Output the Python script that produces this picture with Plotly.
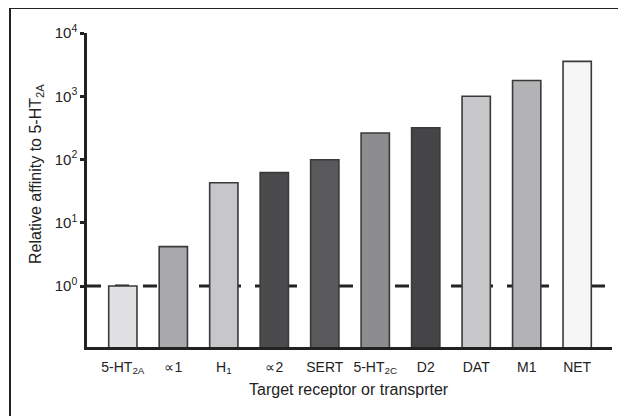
import plotly.graph_objects as go

categories = ["5-HT<sub>2A</sub>", "∝1", "H<sub>1</sub>", "∝2", "SERT",
              "5-HT<sub>2C</sub>", "D2", "DAT", "M1", "NET"]
values = [1.0, 4.2, 43, 62, 99, 263, 318, 1000, 1770, 3560]
bar_colors = ["#e1e1e3", "#a9a9ab", "#c7c7c9", "#4b4b4d", "#59595b",
              "#8d8d8f", "#454547", "#c8c8ca", "#b3b3b5", "#f6f6f6"]
ytick_vals = [1, 10, 100, 1000, 10000]
ytick_text = ["10<sup>0</sup>", "10<sup>1</sup>", "10<sup>2</sup>", "10<sup>3</sup>", "10<sup>4</sup>"]
x_title = "Target receptor or transprter"
y_title = "Relative affinity to 5-HT<sub>2A</sub>"

FONT = "Liberation Sans, Arial, sans-serif"
INK = "#222222"

OFF = 8  # page body margin
W, H = 618, 408
L, T = 87 - OFF, 33 - OFF
R = W - (612 - OFF)
B = H - (347 - OFF)
pw, ph = W - L - R, H - T - B

def px(x):
    return (x - OFF - L) / pw

def py(y):
    return (H - B - (y - OFF)) / ph

fig = go.Figure()
fig.add_trace(go.Bar(
    x=list(range(len(categories))), y=values, width=0.56,
    marker=dict(color=bar_colors, line=dict(color="#3a3a3a", width=1.6)),
))

fig.update_layout(
    width=W, height=H,
    margin=dict(l=L, r=R, t=T, b=B, autoexpand=False),
    paper_bgcolor="white", plot_bgcolor="white",
    showlegend=False,
    font=dict(family=FONT, color=INK, size=14),
)
fig.update_xaxes(
    range=[-0.71, 9.69],
    tickmode="array", tickvals=list(range(len(categories))), ticktext=categories,
    ticks="outside", ticklen=5, tickcolor="rgba(0,0,0,0)",
    showgrid=False, zeroline=False,
    showline=True, linecolor=INK, linewidth=2.5,
    tickfont=dict(family=FONT, size=14, color=INK),
)
fig.update_yaxes(
    type="log", range=[-0.964, 4],
    tickmode="array", tickvals=ytick_vals, ticktext=ytick_text,
    ticks="outside", ticklen=4, tickwidth=2.5, tickcolor=INK,
    showgrid=False, zeroline=False,
    showline=True, linecolor=INK, linewidth=2.5,
    tickfont=dict(family=FONT, size=15, color=INK),
)

shapes = [
    dict(type="line", xref="paper", yref="y", x0=0, x1=1, y0=1, y1=1,
         line=dict(color=INK, width=3, dash="14px,14px"), layer="below"),
    dict(type="line", xref="paper", yref="paper", x0=px(10), x1=px(640),
         y0=py(8), y1=py(8), line=dict(color=INK, width=2)),
    dict(type="line", xref="paper", yref="paper", x0=px(10), x1=px(10),
         y0=py(8), y1=py(430), line=dict(color=INK, width=2)),
]
fig.update_layout(shapes=shapes)

fig.add_annotation(text=x_title, xref="paper", yref="paper",
                   x=px(349), y=py(389), showarrow=False,
                   font=dict(family=FONT, size=16, color=INK),
                   xanchor="center", yanchor="middle")
fig.add_annotation(text=y_title, xref="paper", yref="paper",
                   x=px(36), y=py(174), showarrow=False, textangle=-90,
                   font=dict(family=FONT, size=16, color=INK),
                   xanchor="center", yanchor="middle")

fig.write_html("out.html")
